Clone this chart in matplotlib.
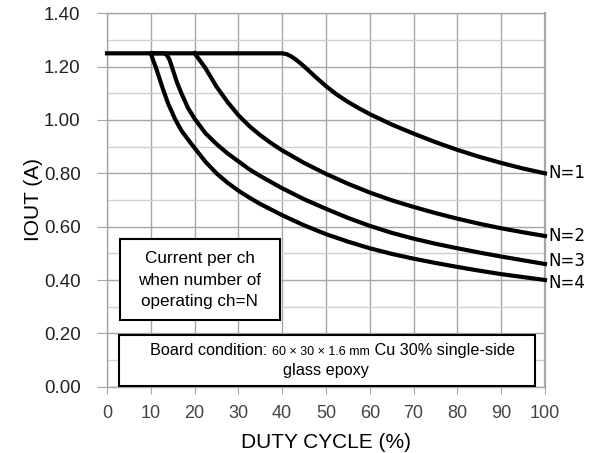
import matplotlib
matplotlib.use("Agg")
import matplotlib.pyplot as plt
from matplotlib.patches import Rectangle
from matplotlib.ticker import MultipleLocator

# duty cycle (%) vs IOUT (A)
n1_x = [0, 40, 41, 42, 43, 44, 45, 46, 47.5, 50, 52.5, 55, 57.5, 60, 65, 70, 75, 80, 85, 90, 95, 100]
n1_y = [1.25, 1.25, 1.247, 1.239, 1.228, 1.215, 1.201, 1.186, 1.163, 1.127, 1.095, 1.068, 1.044, 1.022, 0.983, 0.949, 0.917, 0.888, 0.862, 0.839, 0.818, 0.80]

n2_x = [20, 21, 22.5, 25, 27.5, 30, 32.5, 35, 37.5, 40, 45, 50, 55, 60, 65, 70, 75, 80, 85, 90, 95, 100]
n2_y = [1.25, 1.228, 1.194, 1.125, 1.068, 1.018, 0.977, 0.943, 0.913, 0.886, 0.839, 0.798, 0.761, 0.728, 0.699, 0.674, 0.651, 0.630, 0.611, 0.594, 0.579, 0.565]

n3_x = [10, 13, 13.7, 14.3, 15, 16, 17, 18.5, 20, 22.5, 25, 27.5, 30, 32.5, 35, 40, 45, 50, 55, 60, 65, 70, 75, 80, 85, 90, 95, 100]
n3_y = [1.25, 1.25, 1.243, 1.225, 1.19, 1.14, 1.10, 1.045, 1.005, 0.95, 0.91, 0.875, 0.845, 0.815, 0.79, 0.744, 0.703, 0.667, 0.633, 0.603, 0.577, 0.555, 0.536, 0.519, 0.503, 0.488, 0.474, 0.46]

n4_x = [10, 10.5, 11.1, 12, 12.9, 14, 15.5, 17, 18.5, 20, 22.5, 25, 27.5, 30, 32.5, 35, 40, 45, 50, 55, 60, 65, 70, 75, 80, 85, 90, 95, 100]
n4_y = [1.25, 1.226, 1.20, 1.155, 1.11, 1.06, 1.005, 0.96, 0.927, 0.895, 0.843, 0.80, 0.765, 0.735, 0.709, 0.685, 0.643, 0.605, 0.572, 0.544, 0.519, 0.498, 0.480, 0.464, 0.449, 0.435, 0.422, 0.411, 0.40]

curves = [(n1_x, n1_y, "N=1", 0.0), (n2_x, n2_y, "N=2", 0.0),
          (n3_x, n3_y, "N=3", 0.012), (n4_x, n4_y, "N=4", -0.012)]

plt.rcParams['font.family'] = ['Liberation Sans', 'DejaVu Sans']

fig = plt.figure(figsize=(5.99, 4.53), dpi=100)
ax = fig.add_axes([0.1786, 0.1464, 0.7312, 0.8242])

ax.set_xlim(0, 100)
ax.set_ylim(0, 1.4)
ax.xaxis.set_major_locator(MultipleLocator(10))
ax.yaxis.set_major_locator(MultipleLocator(0.2))
ax.yaxis.set_minor_locator(MultipleLocator(0.1))
ax.set_yticklabels(["%.2f" % v for v in ax.get_yticks()])

ax.grid(which="major", color="#a6a6a6", lw=1.0)
ax.grid(which="minor", axis="y", color="#cfcfcf", lw=1.0)
ax.set_axisbelow(True)
for s in ax.spines.values():
    s.set_color("#a6a6a6")
    s.set_linewidth(1.0)
ax.spines["right"].set_linewidth(1.6)

ax.tick_params(axis="y", which="major", length=7, color="#a6a6a6", labelsize=13.5, pad=12, labelcolor="#222222")
ax.tick_params(axis="y", which="minor", length=0)
ax.tick_params(axis="x", length=5, color="#a6a6a6", labelsize=13, pad=8, labelcolor="#444444")

for xs, ys, lab, dy in curves:
    ax.plot(xs, ys, color="black", lw=3, solid_joinstyle="round", zorder=4, clip_on=False)
    ax.text(100.8, ys[-1] + dy, lab, family="DejaVu Sans", fontsize=12, va="center", ha="left")

ax.set_xlabel("DUTY CYCLE (%)", fontsize=15, labelpad=8)
ax.set_ylabel("IOUT (A)", fontsize=15, labelpad=0.5)

# note boxes
ax.add_patch(Rectangle((3, 0.25), 36.5, 0.303, facecolor="white", edgecolor="black", lw=1.5, zorder=3))
ax.text(21.2, 0.399, "Current per ch\nwhen number of\noperating ch=N", fontsize=12.3,
        ha="center", va="center", linespacing=1.55, zorder=5)

ax.add_patch(Rectangle((2.7, 0.004), 95.1, 0.191, facecolor="white", edgecolor="black", lw=1.5, zorder=3))
t1 = ax.text(9.8, 0.1375, "Board condition: ", fontsize=11.7, ha="left", va="center", zorder=5)
t2 = ax.annotate("60 \u00d7 30 \u00d7 1.6 mm", xy=(1, 0), xycoords=t1, fontsize=9,
                 ha="left", va="bottom", zorder=5)
t3 = ax.annotate(" Cu 30% single-side", xy=(1, 0), xycoords=t1, xytext=(0, 0), textcoords="offset points",
                 fontsize=11.7, ha="left", va="bottom", zorder=5)
ax.text(50, 0.0625, "glass epoxy", fontsize=11.7, ha="center", va="center", zorder=5)

# put the third chunk after the second one
fig.canvas.draw()
r = fig.canvas.get_renderer()
w2 = t2.get_window_extent(r).width * 72 / fig.dpi
t3.xyann = (w2, 0)

fig.savefig("out.png", dpi=100)
